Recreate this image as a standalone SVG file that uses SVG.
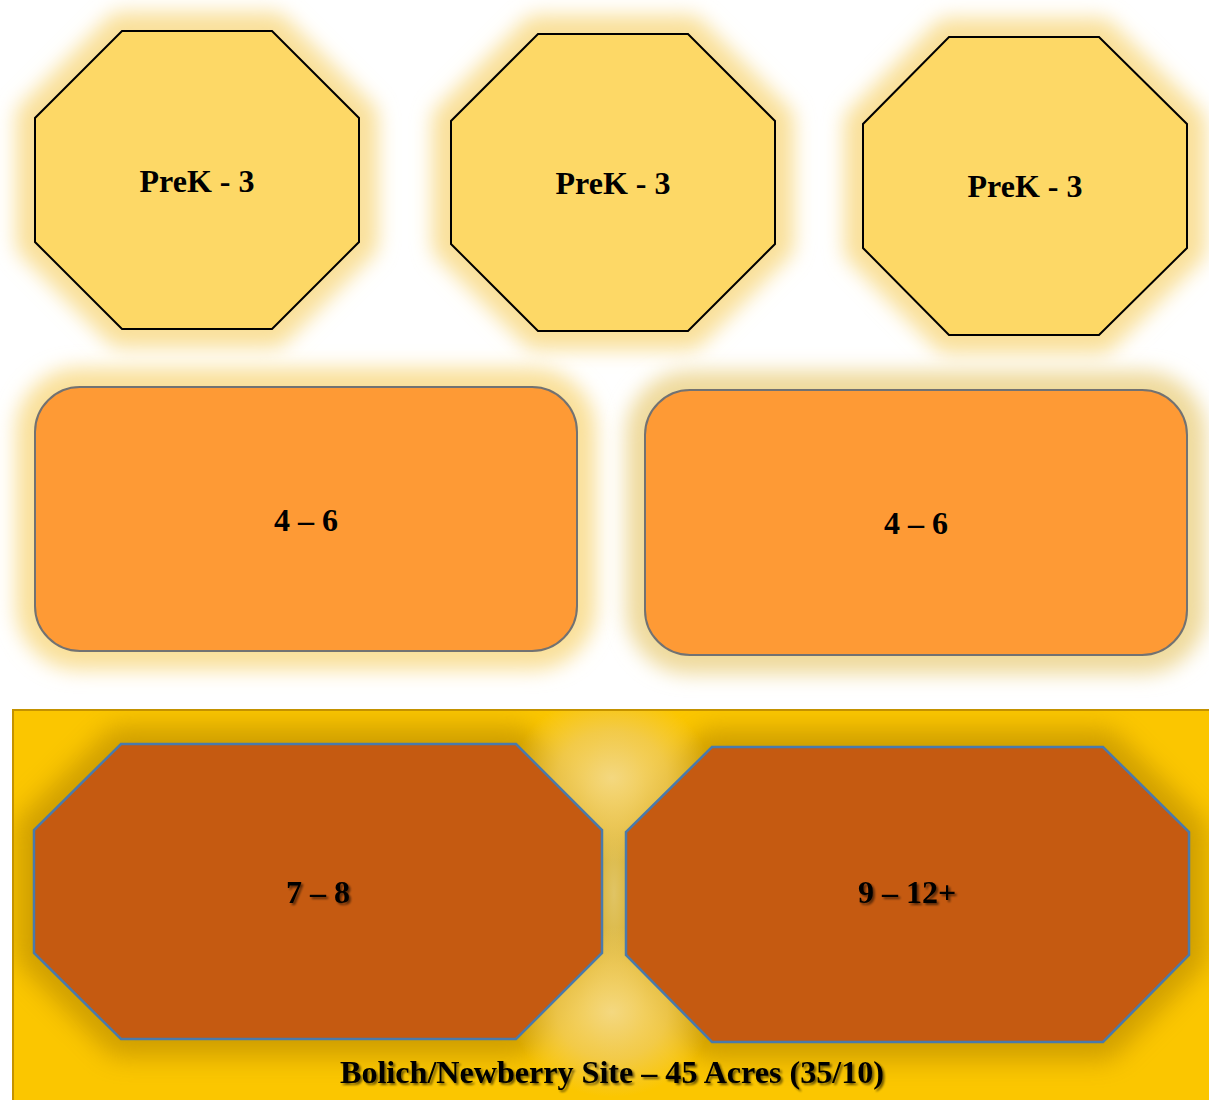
<svg xmlns="http://www.w3.org/2000/svg" width="1209" height="1100" viewBox="0 0 1209 1100">
  <defs>
    <style>
      .lbl { font-family: "Liberation Serif", "Times New Roman", serif; font-weight: bold; text-anchor: middle; fill: #000; }
      .octTop { fill: #FDD866; stroke: #000; stroke-width: 2; }
      .box { fill: #FE9A35; stroke: #727272; stroke-width: 2; }
      .octLow { fill: #C55A11; stroke: #4A7AAB; stroke-width: 2.5; }
      .halo { fill: #F9E09A; stroke: #F9E09A; stroke-width: 38; stroke-linejoin: round; filter: url(#haloBlur); }
      .shade { fill: #C89800; stroke: #C89800; stroke-width: 36; stroke-linejoin: round; opacity: 0.85; filter: url(#shadeBlur); }
    </style>
    <filter id="haloBlur" x="-20%" y="-20%" width="140%" height="140%">
      <feGaussianBlur stdDeviation="10"/>
    </filter>
    <filter id="shadeBlur" x="-20%" y="-20%" width="140%" height="140%">
      <feGaussianBlur stdDeviation="13"/>
    </filter>
    <filter id="textShadow" x="-10%" y="-30%" width="120%" height="160%">
      <feGaussianBlur in="SourceAlpha" stdDeviation="1.2"/>
      <feOffset dx="1.5" dy="1.5" result="b"/>
      <feComponentTransfer in="b" result="s"><feFuncA type="linear" slope="0.55"/></feComponentTransfer>
      <feMerge><feMergeNode in="s"/><feMergeNode in="SourceGraphic"/></feMerge>
    </filter>
    <radialGradient id="spot">
      <stop offset="0" stop-color="#F4D880" stop-opacity="1"/>
      <stop offset="0.55" stop-color="#F0CC60" stop-opacity="0.75"/>
      <stop offset="1" stop-color="#F0CC60" stop-opacity="0"/>
    </radialGradient>
    <radialGradient id="strip">
      <stop offset="0" stop-color="#E2C870" stop-opacity="0.9"/>
      <stop offset="1" stop-color="#E2C870" stop-opacity="0"/>
    </radialGradient>
    <clipPath id="panelClip"><rect x="13" y="710" width="1200" height="395"/></clipPath>
  </defs>

  <rect width="1209" height="1100" fill="#FFFFFF"/>

  <!-- soft halos behind the upper shapes -->
  <g id="halos">
    <polygon class="halo" points="122,31 272,31 359,118 359,242 272,329 122,329 35,242 35,118"/>
    <polygon class="halo" points="538,34 688,34 775,121 775,244 688,331 538,331 451,244 451,121"/>
    <polygon class="halo" points="949,37 1099,37 1187,124 1187,248 1099,335 949,335 863,248 863,124"/>
    <rect class="halo" x="35" y="387" width="542" height="264" rx="45"/>
    <rect class="halo" x="645" y="390" width="542" height="265" rx="45" style="fill:#EFDA9C;stroke:#EFDA9C"/>
  </g>

  <!-- site panel -->
  <g id="site-panel">
    <rect x="13" y="710" width="1200" height="395" fill="#FBC600"/>
    <g clip-path="url(#panelClip)">
      <polygon class="shade" points="121,744 516,744 602,830 602,953 516,1039 121,1039 34,953 34,830"/>
      <polygon class="shade" points="712,747 1103,747 1189,832 1189,955 1103,1042 712,1042 626,955 626,832"/>
      <ellipse cx="614" cy="893" rx="40" ry="170" fill="url(#strip)"/>
      <ellipse cx="612" cy="778" rx="100" ry="85" fill="url(#spot)"/>
      <ellipse cx="612" cy="1012" rx="100" ry="85" fill="url(#spot)"/>
    </g>
    <rect x="13" y="710" width="1200" height="395" fill="none" stroke="#C49200" stroke-width="2"/>
  </g>

  <g id="node-prek-1">
    <polygon class="octTop" points="122,31 272,31 359,118 359,242 272,329 122,329 35,242 35,118"/>
    <text class="lbl" x="197" y="192" font-size="32">PreK - 3</text>
  </g>
  <g id="node-prek-2">
    <polygon class="octTop" points="538,34 688,34 775,121 775,244 688,331 538,331 451,244 451,121"/>
    <text class="lbl" x="613" y="194" font-size="32">PreK - 3</text>
  </g>
  <g id="node-prek-3">
    <polygon class="octTop" points="949,37 1099,37 1187,124 1187,248 1099,335 949,335 863,248 863,124"/>
    <text class="lbl" x="1025" y="197" font-size="32">PreK - 3</text>
  </g>

  <g id="node-46-a">
    <rect class="box" x="35" y="387" width="542" height="264" rx="45"/>
    <text class="lbl" x="306" y="531" font-size="32">4 – 6</text>
  </g>
  <g id="node-46-b">
    <rect class="box" x="645" y="390" width="542" height="265" rx="45"/>
    <text class="lbl" x="916" y="534" font-size="32">4 – 6</text>
  </g>

  <g id="node-78">
    <polygon class="octLow" points="121,744 516,744 602,830 602,953 516,1039 121,1039 34,953 34,830"/>
    <text class="lbl" x="318" y="903" font-size="32" filter="url(#textShadow)">7 – 8</text>
  </g>
  <g id="node-912">
    <polygon class="octLow" points="712,747 1103,747 1189,832 1189,955 1103,1042 712,1042 626,955 626,832"/>
    <text class="lbl" x="907" y="903" font-size="32" filter="url(#textShadow)">9 – 12+</text>
  </g>

  <g id="site-label">
    <text class="lbl" x="612" y="1083" font-size="32" textLength="544" lengthAdjust="spacingAndGlyphs" filter="url(#textShadow)">Bolich/Newberry Site – 45 Acres (35/10)</text>
  </g>

  <g id="connectors"/>
</svg>
